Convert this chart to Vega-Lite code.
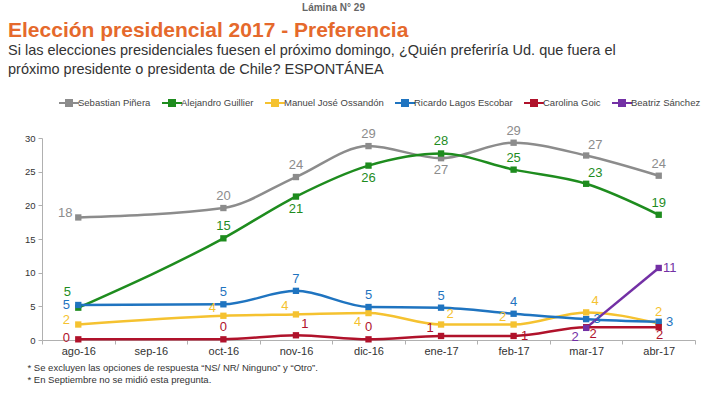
{
  "$schema": "https://vega.github.io/schema/vega-lite/v6.json",
  "padding": {"left": 8, "top": 2, "right": 5, "bottom": 2},
  "background": "white",
  "title": {"text": "Lámina N° 29", "fontSize": 10, "fontWeight": "bold", "color": "#666666", "anchor": "middle", "offset": 7, "dx": -21, "font": "Liberation Sans Narrow, Liberation Sans"},
  "config": {
    "font": "Liberation Sans",
    "view": {"stroke": null},
    "axis": {"grid": false, "domainColor": "#b0b0b0", "tickColor": "#b0b0b0", "labelColor": "#333333"}
  },
  "resolve": {"scale": {"color": "independent"}, "legend": {"color": "independent"}},
  "vconcat": [
    {
      "width": 653,
      "height": 202,
      "title": {
        "text": "Elección presidencial 2017 - Preferencia",
        "subtitle": ["Si las elecciones presidenciales fuesen el próximo domingo, ¿Quién preferiría Ud. que fuera el", "próximo presidente o presidenta de Chile? ESPONTÁNEA"],
        "anchor": "start", "frame": "group", "dx": -34,
        "fontSize": 21, "fontWeight": "bold", "color": "#E5692C",
        "subtitleFontSize": 14.5, "subtitleColor": "#333333", "subtitleLineHeight": 19, "subtitlePadding": 3,
        "offset": 21
      },
      "data": {"values": [
        {"mes": "ago-16", "candidato": "Sebastian Piñera", "valor": 18.2},
        {"mes": "oct-16", "candidato": "Sebastian Piñera", "valor": 19.6},
        {"mes": "nov-16", "candidato": "Sebastian Piñera", "valor": 24.2},
        {"mes": "dic-16", "candidato": "Sebastian Piñera", "valor": 28.8},
        {"mes": "ene-17", "candidato": "Sebastian Piñera", "valor": 27.0},
        {"mes": "feb-17", "candidato": "Sebastian Piñera", "valor": 29.3},
        {"mes": "mar-17", "candidato": "Sebastian Piñera", "valor": 27.4},
        {"mes": "abr-17", "candidato": "Sebastian Piñera", "valor": 24.4},
        {"mes": "ago-16", "candidato": "Alejandro Guillier", "valor": 4.8},
        {"mes": "oct-16", "candidato": "Alejandro Guillier", "valor": 15.1},
        {"mes": "nov-16", "candidato": "Alejandro Guillier", "valor": 21.3},
        {"mes": "dic-16", "candidato": "Alejandro Guillier", "valor": 25.9},
        {"mes": "ene-17", "candidato": "Alejandro Guillier", "valor": 27.7},
        {"mes": "feb-17", "candidato": "Alejandro Guillier", "valor": 25.3},
        {"mes": "mar-17", "candidato": "Alejandro Guillier", "valor": 23.2},
        {"mes": "abr-17", "candidato": "Alejandro Guillier", "valor": 18.6},
        {"mes": "ago-16", "candidato": "Manuel José Ossandón", "valor": 2.3},
        {"mes": "oct-16", "candidato": "Manuel José Ossandón", "valor": 3.6},
        {"mes": "nov-16", "candidato": "Manuel José Ossandón", "valor": 3.8},
        {"mes": "dic-16", "candidato": "Manuel José Ossandón", "valor": 4.0},
        {"mes": "ene-17", "candidato": "Manuel José Ossandón", "valor": 2.3},
        {"mes": "feb-17", "candidato": "Manuel José Ossandón", "valor": 2.3},
        {"mes": "mar-17", "candidato": "Manuel José Ossandón", "valor": 4.1},
        {"mes": "abr-17", "candidato": "Manuel José Ossandón", "valor": 2.45},
        {"mes": "ago-16", "candidato": "Ricardo Lagos Escobar", "valor": 5.2},
        {"mes": "oct-16", "candidato": "Ricardo Lagos Escobar", "valor": 5.3},
        {"mes": "nov-16", "candidato": "Ricardo Lagos Escobar", "valor": 7.3},
        {"mes": "dic-16", "candidato": "Ricardo Lagos Escobar", "valor": 4.9},
        {"mes": "ene-17", "candidato": "Ricardo Lagos Escobar", "valor": 4.8},
        {"mes": "feb-17", "candidato": "Ricardo Lagos Escobar", "valor": 3.9},
        {"mes": "mar-17", "candidato": "Ricardo Lagos Escobar", "valor": 3.1},
        {"mes": "abr-17", "candidato": "Ricardo Lagos Escobar", "valor": 2.7},
        {"mes": "ago-16", "candidato": "Carolina Goic", "valor": 0.1},
        {"mes": "oct-16", "candidato": "Carolina Goic", "valor": 0.1},
        {"mes": "nov-16", "candidato": "Carolina Goic", "valor": 0.7},
        {"mes": "dic-16", "candidato": "Carolina Goic", "valor": 0.1},
        {"mes": "ene-17", "candidato": "Carolina Goic", "valor": 0.6},
        {"mes": "feb-17", "candidato": "Carolina Goic", "valor": 0.6},
        {"mes": "mar-17", "candidato": "Carolina Goic", "valor": 1.9},
        {"mes": "abr-17", "candidato": "Carolina Goic", "valor": 1.9},
        {"mes": "mar-17", "candidato": "Beatriz Sánchez", "valor": 1.8},
        {"mes": "abr-17", "candidato": "Beatriz Sánchez", "valor": 10.7}
      ]},
      "encoding": {
        "x": {"field": "mes", "type": "ordinal", "bandPosition": 0.5,
          "scale": {"type": "band", "domain": ["ago-16", "sep-16", "oct-16", "nov-16", "dic-16", "ene-17", "feb-17", "mar-17", "abr-17"], "paddingInner": 0, "paddingOuter": 0},
          "axis": {"labelAngle": 0, "tickBand": "extent", "tickSize": 4, "labelPadding": 1, "labelFontSize": 11, "labelFont": "Liberation Sans Narrow, Liberation Sans",
            "title": ["* Se excluyen las opciones de respuesta “NS/ NR/ Ninguno” y “Otro”.", "* En Septiembre no se midió esta pregunta."],
            "titleFontSize": 9.5, "titleFontWeight": "normal", "titleColor": "#333333", "titleFont": "Liberation Sans Narrow, Liberation Sans",
            "titleAnchor": "start", "titleAlign": "left", "titleBaseline": "top", "titleX": -15, "titleY": 22, "titleLineHeight": 12}},
        "y": {"field": "valor", "type": "quantitative", "scale": {"domain": [0, 30]},
          "axis": {"values": [0, 5, 10, 15, 20, 25, 30], "title": null, "labelFontSize": 9.5, "tickSize": 4, "labelPadding": 3}},
        "color": {"field": "candidato", "type": "nominal",
          "scale": {"domain": ["Sebastian Piñera", "Alejandro Guillier", "Manuel José Ossandón", "Ricardo Lagos Escobar", "Carolina Goic", "Beatriz Sánchez"],
            "range": ["#8C8C8C", "#1E8C1E", "#F5C230", "#1F74C0", "#B0122B", "#7330A5"]},
          "legend": {"orient": "none", "direction": "horizontal", "legendX": 21, "legendY": -41, "title": null, "symbolType": "M-2,0H2M-0.6,-0.6H0.6V0.6H-0.6Z", "symbolSize": 100, "symbolStrokeWidth": 2,
            "labelFontSize": 9.5, "labelColor": "#444444", "labelFont": "Liberation Sans Narrow, Liberation Sans", "columnPadding": 7, "labelOffset": 3}}
      },
      "layer": [
        {"transform": [{"filter": "datum.candidato !== 'Beatriz Sánchez'"}], "mark": {"type": "line", "interpolate": "monotone", "strokeWidth": 2.5}},
        {"transform": [{"filter": "datum.candidato === 'Beatriz Sánchez'"}], "mark": {"type": "line", "strokeWidth": 2.5}},
        {"mark": {"type": "point", "shape": "square", "filled": true, "opacity": 1},
          "encoding": {"size": {"field": "candidato", "type": "nominal", "legend": null,
            "scale": {"domain": ["Sebastian Piñera", "Alejandro Guillier", "Manuel José Ossandón", "Ricardo Lagos Escobar", "Carolina Goic", "Beatriz Sánchez"], "range": [40, 40, 40, 40, 40, 90]}}}},
        {"transform": [{"filter": "indexof(['Sebastian Piñera|oct-16','Sebastian Piñera|nov-16','Sebastian Piñera|dic-16','Sebastian Piñera|feb-17','Sebastian Piñera|abr-17','Alejandro Guillier|oct-16','Alejandro Guillier|ene-17','Alejandro Guillier|feb-17','Alejandro Guillier|abr-17','Manuel José Ossandón|abr-17','Ricardo Lagos Escobar|oct-16','Ricardo Lagos Escobar|nov-16','Ricardo Lagos Escobar|dic-16','Ricardo Lagos Escobar|ene-17','Ricardo Lagos Escobar|feb-17','Carolina Goic|oct-16','Carolina Goic|dic-16'], datum.candidato + '|' + datum.mes) >= 0"}],
          "mark": {"type": "text", "fontSize": 13, "dx": 0, "dy": -12},
          "encoding": {"text": {"field": "valor", "type": "quantitative", "format": ".0f"}}},
        {"transform": [{"filter": "indexof(['Sebastian Piñera|mar-17','Alejandro Guillier|mar-17','Manuel José Ossandón|ene-17','Manuel José Ossandón|mar-17','Carolina Goic|nov-16'], datum.candidato + '|' + datum.mes) >= 0"}],
          "mark": {"type": "text", "fontSize": 13, "dx": 9, "dy": -11},
          "encoding": {"text": {"field": "valor", "type": "quantitative", "format": ".0f"}}},
        {"transform": [{"filter": "indexof(['Manuel José Ossandón|oct-16','Manuel José Ossandón|nov-16','Manuel José Ossandón|feb-17','Carolina Goic|ene-17'], datum.candidato + '|' + datum.mes) >= 0"}],
          "mark": {"type": "text", "fontSize": 13, "dx": -11, "dy": -8},
          "encoding": {"text": {"field": "valor", "type": "quantitative", "format": ".0f"}}},
        {"transform": [{"filter": "indexof(['Manuel José Ossandón|ago-16'], datum.candidato + '|' + datum.mes) >= 0"}],
          "mark": {"type": "text", "fontSize": 13, "dx": -12, "dy": -5},
          "encoding": {"text": {"field": "valor", "type": "quantitative", "format": ".0f"}}},
        {"transform": [{"filter": "indexof(['Alejandro Guillier|ago-16'], datum.candidato + '|' + datum.mes) >= 0"}],
          "mark": {"type": "text", "fontSize": 13, "dx": -11, "dy": -16},
          "encoding": {"text": {"field": "valor", "type": "quantitative", "format": ".0f"}}},
        {"transform": [{"filter": "indexof(['Sebastian Piñera|ago-16'], datum.candidato + '|' + datum.mes) >= 0"}],
          "mark": {"type": "text", "fontSize": 13, "dx": -13, "dy": -4},
          "encoding": {"text": {"field": "valor", "type": "quantitative", "format": ".0f"}}},
        {"transform": [{"filter": "indexof(['Ricardo Lagos Escobar|ago-16'], datum.candidato + '|' + datum.mes) >= 0"}],
          "mark": {"type": "text", "fontSize": 13, "dx": -12, "dy": 0},
          "encoding": {"text": {"field": "valor", "type": "quantitative", "format": ".0f"}}},
        {"transform": [{"filter": "indexof(['Carolina Goic|ago-16'], datum.candidato + '|' + datum.mes) >= 0"}],
          "mark": {"type": "text", "fontSize": 13, "dx": -12, "dy": -1},
          "encoding": {"text": {"field": "valor", "type": "quantitative", "format": ".0f"}}},
        {"transform": [{"filter": "indexof(['Sebastian Piñera|ene-17','Alejandro Guillier|nov-16','Alejandro Guillier|dic-16'], datum.candidato + '|' + datum.mes) >= 0"}],
          "mark": {"type": "text", "fontSize": 13, "dx": 0, "dy": 12},
          "encoding": {"text": {"field": "valor", "type": "quantitative", "format": ".0f"}}},
        {"transform": [{"filter": "indexof(['Carolina Goic|abr-17'], datum.candidato + '|' + datum.mes) >= 0"}],
          "mark": {"type": "text", "fontSize": 13, "dx": 1, "dy": 8},
          "encoding": {"text": {"field": "valor", "type": "quantitative", "format": ".0f"}}},
        {"transform": [{"filter": "indexof(['Manuel José Ossandón|dic-16','Beatriz Sánchez|mar-17'], datum.candidato + '|' + datum.mes) >= 0"}],
          "mark": {"type": "text", "fontSize": 13, "dx": -11, "dy": 9},
          "encoding": {"text": {"field": "valor", "type": "quantitative", "format": ".0f"}}},
        {"transform": [{"filter": "indexof(['Carolina Goic|mar-17'], datum.candidato + '|' + datum.mes) >= 0"}],
          "mark": {"type": "text", "fontSize": 13, "dx": 7, "dy": 7},
          "encoding": {"text": {"field": "valor", "type": "quantitative", "format": ".0f"}}},
        {"transform": [{"filter": "indexof(['Ricardo Lagos Escobar|mar-17','Ricardo Lagos Escobar|abr-17','Beatriz Sánchez|abr-17','Carolina Goic|feb-17'], datum.candidato + '|' + datum.mes) >= 0"}],
          "mark": {"type": "text", "fontSize": 13, "dx": 11, "dy": 0},
          "encoding": {"text": {"field": "valor", "type": "quantitative", "format": ".0f"}}}
      ]
    }
  ]
}
